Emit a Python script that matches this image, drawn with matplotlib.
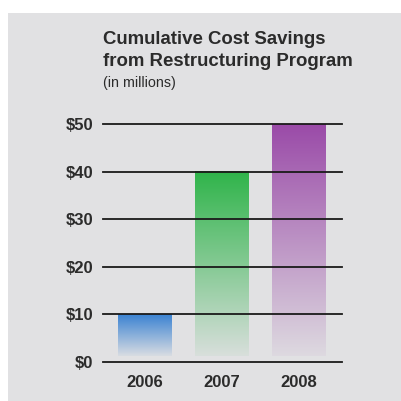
import numpy as np
import matplotlib
matplotlib.use("Agg")
import matplotlib.pyplot as plt
from matplotlib.patches import Rectangle
from matplotlib.colors import to_rgb

# Chart data
years = ["2006", "2007", "2008"]
savings = [10, 40, 50]  # $ millions, cumulative
bar_colors = ["#3a82d2", "#2fb44a", "#9a4aa8"]
tick_values = [0, 10, 20, 30, 40, 50]
tick_labels = ["$0", "$10", "$20", "$30", "$40", "$50"]

BG = "#e1e1e3"
TEXT = "#2b2b2b"

W, H = 402, 401
fig = plt.figure(figsize=(W / 100, H / 100), dpi=100)
fig.patch.set_facecolor("white")

# Grey panel behind everything
fig.patches.append(Rectangle((8 / W, 0), 1, 1 - 13 / H, transform=fig.transFigure,
                             facecolor=BG, edgecolor="none", zorder=-10))

# Plot area in pixel terms
x0, x1 = 103, 342
y_top, y_bot = 124, 362
ax = fig.add_axes([x0 / W, 1 - y_bot / H, (x1 - x0) / W, (y_bot - y_top) / H])
ax.set_zorder(5)
ax.set_facecolor("none")

width = 0.70
base = 1.2  # bars stop just short of the zero line
for i, (v, c) in enumerate(zip(savings, bar_colors)):
    rgb = np.array(to_rgb(c))
    bg = np.array(to_rgb(BG))
    t = np.linspace(0, 1, 256)[:, None]  # 0 at bottom, 1 at top
    mix = 0.05 + 0.95 * t ** 1.0
    img = bg * (1 - mix) + rgb * mix
    img = img[:, None, :]
    ax.imshow(img, extent=[i - width / 2, i + width / 2, base, v],
              origin="lower", aspect="auto", zorder=1, interpolation="bilinear")

ax.set_xlim(-0.545, 2.56)
ax.set_ylim(0, 50)

for tv in tick_values:
    ax.axhline(tv, color="#1a1a1a", lw=1.3, zorder=3, clip_on=False)

for s in ax.spines.values():
    s.set_visible(False)
ax.set_xticks(range(len(years)))
ax.set_xticklabels(years, fontsize=12, fontweight="bold", color=TEXT,
                   family="Liberation Sans")
ax.set_yticks(tick_values)
ax.set_yticklabels(tick_labels, fontsize=12, fontweight="bold", color=TEXT,
                   family="Liberation Sans")
ax.tick_params(length=0, pad=7)
ax.tick_params(axis="x", pad=9.5)

fig.text(x0 / W, 1 - 40 / H, "Cumulative Cost Savings", fontsize=13.4,
         fontweight="bold", color=TEXT, family="Liberation Sans", va="center")
fig.text(x0 / W, 1 - 62 / H, "from Restructuring Program", fontsize=13.4,
         fontweight="bold", color=TEXT, family="Liberation Sans", va="center")
fig.text(x0 / W, 1 - 83 / H, "(in millions)", fontsize=10.3,
         color=TEXT, family="Liberation Sans", va="center")

fig.savefig("out.png", dpi=100, facecolor=fig.get_facecolor())
